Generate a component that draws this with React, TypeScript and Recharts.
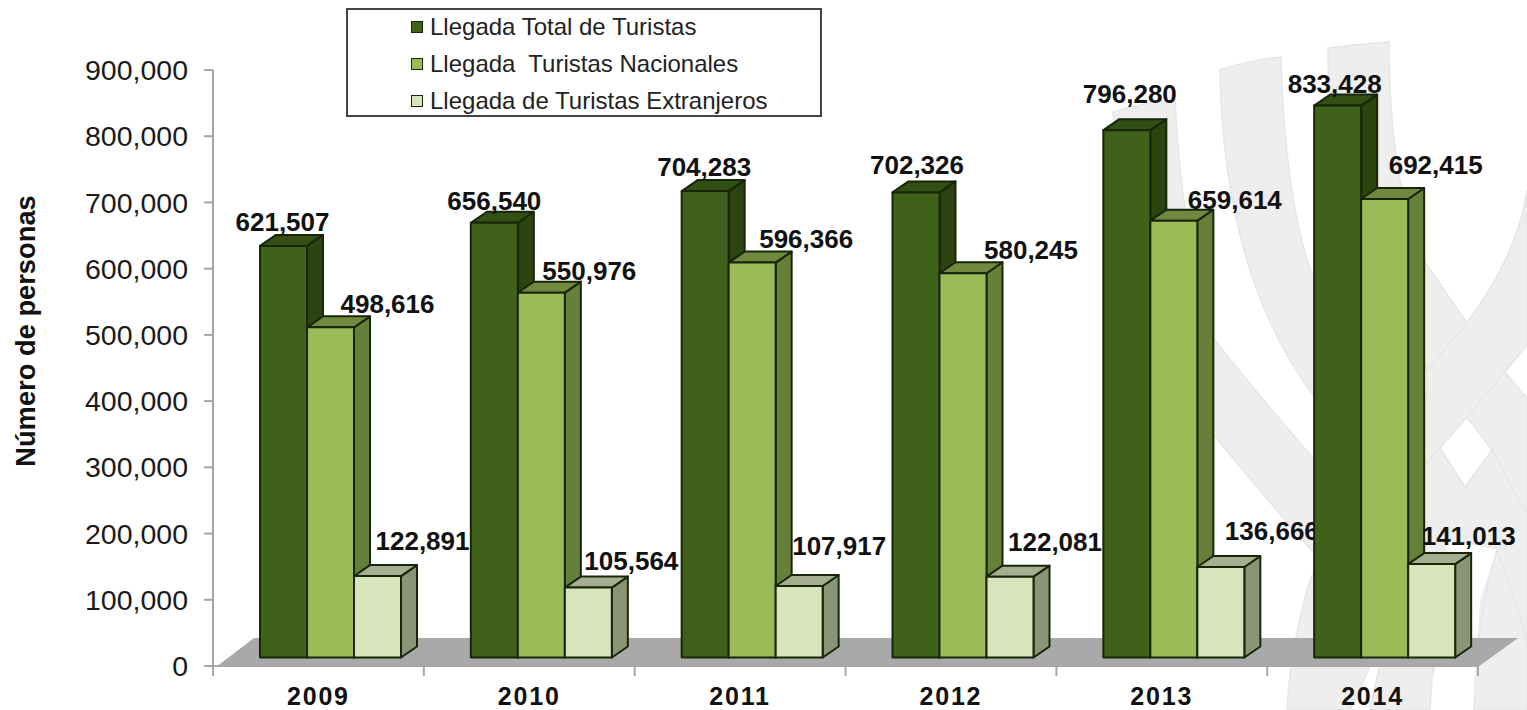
import { BarChart, Bar, XAxis, YAxis, Legend, LabelList } from "recharts";

const YEARS = ["2009", "2010", "2011", "2012", "2013", "2014"];
const TOTAL = [621507, 656540, 704283, 702326, 796280, 833428];
const NATIONAL = [498616, 550976, 596366, 580245, 659614, 692415];
const FOREIGN = [122891, 105564, 107917, 122081, 136666, 141013];
const Y_TICKS = [0, 100000, 200000, 300000, 400000, 500000, 600000, 700000, 800000, 900000];

const data = YEARS.map((year, i) => ({
  year,
  total: TOTAL[i],
  national: NATIONAL[i],
  foreign: FOREIGN[i],
}));

const WIDTH = 1527;
const HEIGHT = 710;
const FONT = '"Liberation Sans", Arial, sans-serif';
const PLOT_LEFT = 213;
const PLOT_RIGHT = 1478;
const BAND = (PLOT_RIGHT - PLOT_LEFT) / YEARS.length;
const BAR_WIDTH = 47;
// the 3D look: bars sit on the floor, a bit up and right of the axis
const SHIFT_X = 12;
const SHIFT_Y = -8.5;
const DEPTH_X = 16;
const DEPTH_Y = -11;
const OUTLINE = "#17260a";

const PALETTE = {
  total: { front: "#3f6119", side: "#2b4410", top: "#324f14" },
  national: { front: "#9bbb59", side: "#667f39", top: "#71893f" },
  foreign: { front: "#d8e4bc", side: "#8c9478", top: "#a6ae8f" },
};

// hand placed data labels, relative to the top centre of each bar
const TOTAL_NUDGE = [[-1, -24], [0, -22], [-1, -24], [1, -27], [3, -36], [-3, -22]];
const NATIONAL_NUDGE = [[57, -23], [48, -22], [54, -24], [68, -23], [61, -21], [51, -34]];
const FOREIGN_NUDGE = [[45, -35], [43, -27], [40, -40], [45, -35], [51, -36], [37, -28]];

function Bar3D(props: any) {
  const { x, y, width, height, colors } = props;
  const left = x + SHIFT_X;
  const right = left + width;
  const top = y + SHIFT_Y;
  const bottom = top + height;
  return (
    <g stroke={OUTLINE} strokeWidth={2} strokeLinejoin="round">
      <polygon
        points={`${right},${top} ${right + DEPTH_X},${top + DEPTH_Y} ${right + DEPTH_X},${bottom + DEPTH_Y} ${right},${bottom}`}
        fill={colors.side}
      />
      <polygon
        points={`${left},${top} ${left + DEPTH_X},${top + DEPTH_Y} ${right + DEPTH_X},${top + DEPTH_Y} ${right},${top}`}
        fill={colors.top}
      />
      <rect x={left} y={top} width={width} height={height} fill={colors.front} />
    </g>
  );
}

function valueLabel(nudge: number[][], clipToNextBar: boolean) {
  return (props: any) => {
    const { x, y, width, value, index } = props;
    const [dx, dy] = nudge[index];
    const clipId = `label-clip-${index}`;
    // the next year's dark bar hides the end of the light bars' labels
    const nextBarLeft = x + SHIFT_X + BAND - 2 * BAR_WIDTH;
    return (
      <g>
        {clipToNextBar && (
          <clipPath id={clipId}>
            <rect x={x - 100} y={0} width={nextBarLeft - x + 100} height={HEIGHT} />
          </clipPath>
        )}
        <text
          x={x + SHIFT_X + width / 2 + dx}
          y={y + SHIFT_Y + dy}
          textAnchor="middle"
          dominantBaseline="central"
          fontFamily={FONT}
          fontSize={26}
          fontWeight="bold"
          fill="#111"
          clipPath={clipToNextBar ? `url(#${clipId})` : undefined}
        >
          {Number(value).toLocaleString("en-US")}
        </text>
      </g>
    );
  };
}

function YearTick(props: any) {
  const { x, payload, index } = props;
  const line = (lx: number) => (
    <line x1={lx} x2={lx} y1={666} y2={676} stroke="#a6a6a6" strokeWidth={2} />
  );
  return (
    <g>
      {line(x - BAND / 2)}
      {index === YEARS.length - 1 && line(x + BAND / 2)}
      <text
        x={x}
        y={704.5}
        textAnchor="middle"
        fontFamily={FONT}
        fontSize={25}
        fontWeight="bold"
        letterSpacing={1.8}
        fill="#111"
      >
        {payload.value}
      </text>
    </g>
  );
}

function LegendBox(props: any) {
  return (
    <div
      style={{
        boxSizing: "border-box",
        width: 476,
        height: 109,
        border: "2px solid #444",
        background: "#fff",
        paddingLeft: 63,
        fontFamily: FONT,
        fontSize: 24,
        color: "#222",
      }}
    >
      <div style={{ marginTop: -2 }}>
        {props.payload.map((entry: any) => (
          <div key={entry.value} style={{ display: "flex", alignItems: "center", height: 37 }}>
            <span
              style={{
                boxSizing: "border-box",
                width: 12,
                height: 12,
                marginRight: 7,
                background: entry.color,
                border: `1px solid ${OUTLINE}`,
              }}
            />
            <span style={{ whiteSpace: "pre" }}>{entry.value}</span>
          </div>
        ))}
      </div>
    </div>
  );
}

// faint woven ribbons behind the chart, and the grey floor
function Backdrop() {
  const ribbon = { fill: "#eeeeef", stroke: "#e6e6e7", strokeWidth: 1.5 };
  return (
    <svg width={WIDTH} height={HEIGHT} style={{ position: "absolute", left: 0, top: 0 }}>
      <path {...ribbon} d="M1113,112 Q1145,102 1175,100 C1180,200 1195,290 1215,340 C1245,380 1285,425 1340,490 L1380,540 L1380,620 L1340,580 C1300,540 1260,490 1215,437 C1165,360 1120,230 1113,112 Z" />
      <path {...ribbon} d="M1220,70 Q1250,60 1281,57 C1283,150 1295,230 1313,277 L1400,400 L1400,510 L1313,395 C1250,310 1222,200 1220,70 Z" />
      <path {...ribbon} d="M1287,710 C1290,660 1298,620 1310,580 L1330,540 L1400,440 L1400,600 L1350,710 Z" />
      <path {...ribbon} d="M1370,710 L1385,640 L1440,560 L1430,710 Z" />
      <path {...ribbon} d="M1328,48 Q1358,44 1389,42 C1389,130 1400,215 1427,265 L1467,323 L1505,372 L1527,398 L1527,520 L1492,450 L1467,417 L1427,370 L1380,300 C1345,230 1328,140 1328,48 Z" />
      <path {...ribbon} d="M1424,425 L1440,448 L1465,487 L1492,450 L1527,515 L1527,710 L1473,710 L1440,710 L1424,600 Z" />
      <path {...ribbon} d="M1427,370 L1467,323 C1495,285 1520,240 1527,190 L1527,345 L1505,372 L1467,417 L1440,448 L1424,466 Z" />
      <polygon points="1440,448 1467,417 1492,450 1465,487" fill="#fff" stroke="#e6e6e7" strokeWidth={1.5} />
      <polygon points="1497,550 1480,600 1474,710 1432,710 1440,600 1447,540" fill="#fff" />
      <path d="M1497,550 C1482,595 1476,650 1474,710 M1497,550 C1510,585 1520,615 1527,645" fill="none" stroke="#e6e6e7" strokeWidth={1.5} />
      <polygon points="216,667 1478,667 1518,638 254,638" fill="#a9a9a9" />
    </svg>
  );
}

export default function App() {
  return (
    <div style={{ position: "absolute", left: 0, top: 0, width: WIDTH, height: HEIGHT }}>
      <Backdrop />
      <div style={{ position: "absolute", left: 0, top: 0 }}>
        <BarChart
          width={WIDTH}
          height={HEIGHT}
          data={data}
          margin={{ top: 70, right: WIDTH - PLOT_RIGHT, bottom: 0, left: 0 }}
          barSize={BAR_WIDTH}
          barGap={0}
        >
          <XAxis
            dataKey="year"
            height={44}
            axisLine={{ stroke: "#a6a6a6", strokeWidth: 2 }}
            tickLine={false}
            tick={YearTick}
            interval={0}
          />
          <YAxis
            width={PLOT_LEFT}
            domain={[0, 900000]}
            ticks={Y_TICKS}
            interval={0}
            axisLine={{ stroke: "#a6a6a6", strokeWidth: 2 }}
            tickLine={{ stroke: "#a6a6a6", strokeWidth: 2 }}
            tickSize={9}
            tickMargin={16}
            tick={{ fontFamily: FONT, fontSize: 28.5, fill: "#1a1a1a" }}
            tickFormatter={(v) => Number(v).toLocaleString("en-US")}
            label={{
              value: "Número de personas",
              angle: -90,
              position: "insideLeft",
              offset: 0,
              dx: 25,
              dy: -37,
              style: { fontFamily: FONT, fontSize: 27.3, fontWeight: "bold", fill: "#111", textAnchor: "middle" },
            }}
          />
          <Legend
            layout="vertical"
            align="center"
            verticalAlign="middle"
            itemSorter={null}
            content={LegendBox}
            wrapperStyle={{ left: 346, top: 8, width: 476, height: 109 }}
          />
          <Bar
            dataKey="total"
            name="Llegada Total de Turistas"
            fill={PALETTE.total.front}
            isAnimationActive={false}
            shape={(p: any) => <Bar3D {...p} colors={PALETTE.total} />}
          >
            <LabelList dataKey="total" content={valueLabel(TOTAL_NUDGE, false)} />
          </Bar>
          <Bar
            dataKey="national"
            name="Llegada  Turistas Nacionales"
            fill={PALETTE.national.front}
            isAnimationActive={false}
            shape={(p: any) => <Bar3D {...p} colors={PALETTE.national} />}
          >
            <LabelList dataKey="national" content={valueLabel(NATIONAL_NUDGE, false)} />
          </Bar>
          <Bar
            dataKey="foreign"
            name="Llegada de Turistas Extranjeros"
            fill={PALETTE.foreign.front}
            isAnimationActive={false}
            shape={(p: any) => <Bar3D {...p} colors={PALETTE.foreign} />}
          >
            <LabelList dataKey="foreign" content={valueLabel(FOREIGN_NUDGE, true)} />
          </Bar>
        </BarChart>
      </div>
    </div>
  );
}
